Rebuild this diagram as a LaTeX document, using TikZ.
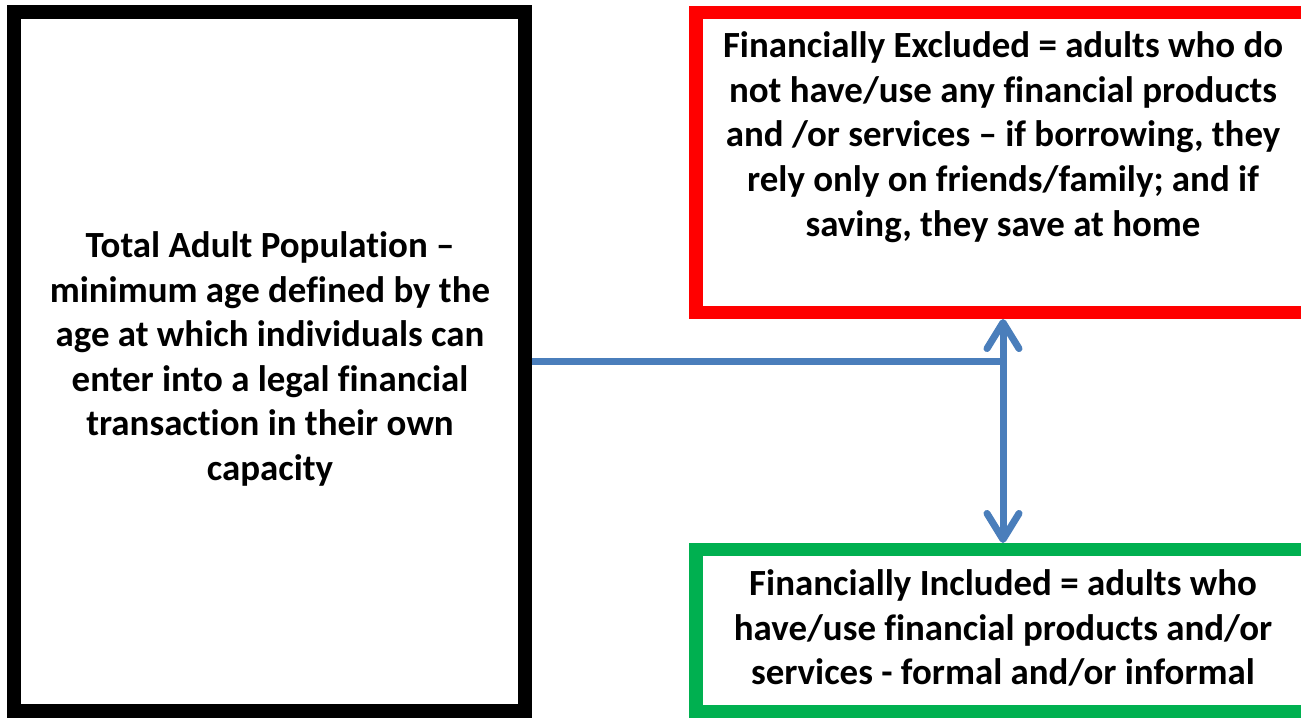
\documentclass[tikz,border=0pt]{standalone}
\usepackage{fontspec}
\setmainfont{Carlito}[Ligatures=NoCommon]
\usetikzlibrary{arrows.meta}
\definecolor{exred}{RGB}{255,0,0}
\definecolor{ingreen}{RGB}{0,176,80}
\definecolor{linkblue}{RGB}{74,126,187}
\tikzset{
  framebox/.style={draw, rectangle, fill=white, inner sep=0pt},
  boxtext/.style={align=center, inner sep=0pt,
    font=\fontsize{36.9}{44.6}\selectfont\bfseries},
  link/.style={draw=linkblue, line width=7pt},
  barb/.tip={Straight Barb[length=26pt, width=32pt, round]},
}
\begin{document}
\begin{tikzpicture}[x=1pt, y=-1pt]
  \useasboundingbox (0,0) rectangle (1301,718);
  \clip (0,0) rectangle (1301,718);

  % population frame
  \node[framebox, line width=14pt, minimum width=510.8pt, minimum height=699pt]
    (tb) at (269.6,361.5) {};
  \node[boxtext] (tbt) at (270,359) {Total Adult Population --\\
    minimum age defined by the\\
    age at which individuals can\\
    enter into a legal financial\\
    transaction in their own\\
    capacity};

  % excluded frame
  \node[framebox, draw=exred, line width=13.5pt, minimum width=614.2pt, minimum height=299.8pt]
    (ex) at (1003,162.4) {};
  \node[boxtext] (ext) at (1003,137) {Financially Excluded = adults who do\\
    not have/use any financial products\\
    and /or services -- if borrowing, they\\
    rely only on friends/family; and if\\
    saving, they save at home};

  % included frame
  \node[framebox, draw=ingreen, line width=13.5pt, minimum width=614.2pt, minimum height=161.8pt]
    (in) at (1003,630.6) {};
  \node[boxtext] (int) at (1003,628) {Financially Included = adults who\\
    have/use financial products and/or\\
    services - formal and/or informal};

  % connectors
  \draw[link] (tb.east) -- (tb.east -| ex.south);
  \draw[link, barb-barb] (ex.south) -- (in.north);
\end{tikzpicture}
\end{document}
